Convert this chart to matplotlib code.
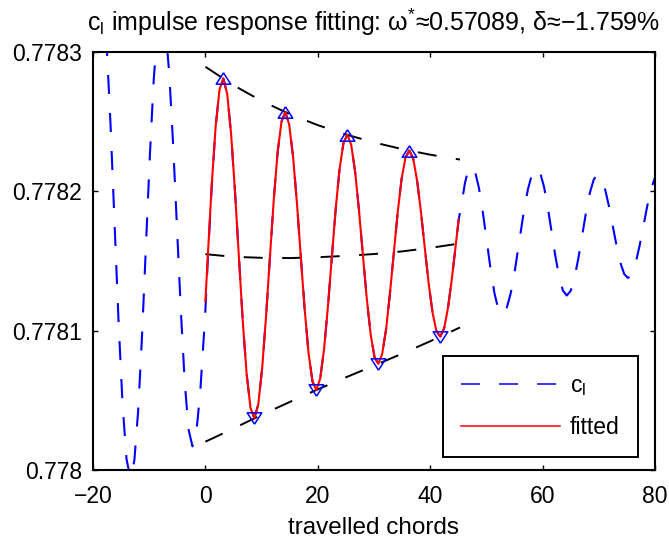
import matplotlib
matplotlib.use("Agg")
import matplotlib.pyplot as plt

plt.rcParams['font.family'] = ['Liberation Sans', 'DejaVu Sans']
plt.rcParams['mathtext.fontset'] = 'custom'
plt.rcParams['mathtext.rm'] = 'Liberation Sans'
plt.rcParams['mathtext.it'] = 'Liberation Sans:italic'
plt.rcParams['lines.scale_dashes'] = False

# measured lift coefficient c_l (blue dashed)
cl_x = [-20.0, -19.71, -19.0, -18.29, -17.58, -16.87, -16.165, -15.455, -14.745, -14.04,
        -13.33, -12.64, -11.95, -11.26, -10.565, -9.875, -9.185, -8.49, -7.8, -7.11,
        -6.425, -5.74, -5.05, -4.36, -3.675, -2.99, -2.3, -1.61, -0.925, -0.24,
        0.0, 0.442, 1.132, 1.821, 2.511, 3.2, 3.889, 4.579, 5.268, 5.958,
        6.647, 7.336, 8.026, 8.715, 9.405, 10.094, 10.783, 11.473, 12.162, 12.852,
        13.541, 14.23, 14.92, 15.609, 16.299, 16.988, 17.677, 18.367, 19.056, 19.746,
        20.435, 21.124, 21.814, 22.503, 23.193, 23.882, 24.571, 25.261, 25.95, 26.64,
        27.329, 28.018, 28.708, 29.397, 30.087, 30.776, 31.465, 32.155, 32.844, 33.534,
        34.223, 34.912, 35.602, 36.291, 36.981, 37.67, 38.359, 39.049, 39.738, 40.428,
        41.117, 41.806, 42.496, 43.185, 43.875, 44.564, 45.07, 45.6, 46.2, 46.75,
        47.3, 47.99, 48.675, 49.36, 50.05, 50.74, 51.425, 52.11, 52.8, 53.56,
        54.33, 55.09, 55.85, 56.61, 57.38, 58.14, 58.9, 59.575, 60.25, 60.925,
        61.6, 62.275, 62.95, 63.625, 64.3, 64.99, 65.675, 66.36, 67.05, 67.74,
        68.425, 69.11, 69.8, 70.475, 71.15, 71.825, 72.5, 73.175, 73.85, 74.525,
        75.2, 75.89, 76.575, 77.26, 77.95, 78.64, 79.325, 80.01, 80.7]
cl_y = [0.7783328, 0.7783461, 0.7783600, 0.7783461, 0.7783064, 0.7782471, 0.7781770, 0.7781069, 0.7780476, 0.7780079,
        0.7779940, 0.7780068, 0.7780432, 0.7780977, 0.7781620, 0.7782263, 0.7782808, 0.7783172, 0.7783300, 0.7783181,
        0.7782841, 0.7782334, 0.7781735, 0.7781136, 0.7780629, 0.7780289, 0.7780170, 0.7780270, 0.7780557, 0.7780984,
        0.7781150, 0.7781520, 0.7782040, 0.7782464, 0.7782730, 0.7782810, 0.7782696, 0.7782409, 0.7781999, 0.7781529,
        0.7781069, 0.7780690, 0.7780446, 0.7780371, 0.7780471, 0.7780727, 0.7781097, 0.7781522, 0.7781938, 0.7782281,
        0.7782501, 0.7782569, 0.7782477, 0.7782245, 0.7781910, 0.7781523, 0.7781146, 0.7780835, 0.7780635, 0.7780574,
        0.7780658, 0.7780871, 0.7781178, 0.7781532, 0.7781878, 0.7782163, 0.7782348, 0.7782406, 0.7782333, 0.7782141,
        0.7781864, 0.7781545, 0.7781233, 0.7780976, 0.7780811, 0.7780762, 0.7780834, 0.7781012, 0.7781269, 0.7781563,
        0.7781851, 0.7782089, 0.7782243, 0.7782293, 0.7782234, 0.7782077, 0.7781850, 0.7781589, 0.7781335, 0.7781127,
        0.7780995, 0.7780958, 0.7781019, 0.7781168, 0.7781379, 0.7781621, 0.7781797, 0.7781915, 0.7782063, 0.7782150,
        0.7782180, 0.7782140, 0.7782024, 0.7781851, 0.7781648, 0.7781444, 0.7781271, 0.7781155, 0.7781115, 0.7781155,
        0.7781269, 0.7781440, 0.7781641, 0.7781842, 0.7782013, 0.7782127, 0.7782167, 0.7782132, 0.7782033, 0.7781885,
        0.7781710, 0.7781534, 0.7781386, 0.7781287, 0.7781252, 0.7781285, 0.7781379, 0.7781519, 0.7781686, 0.7781852,
        0.7781992, 0.7782086, 0.7782119, 0.7782091, 0.7782010, 0.7781890, 0.7781749, 0.7781607, 0.7781487, 0.7781406,
        0.7781378, 0.7781407, 0.7781488, 0.7781610, 0.7781754, 0.7781898, 0.7782020, 0.7782101, 0.7782130]

# fitted damped response (red)
fit_x = [0.0, 0.442, 1.132, 1.821, 2.511, 3.2, 3.889, 4.579, 5.268, 5.958,
         6.647, 7.336, 8.026, 8.715, 9.405, 10.094, 10.783, 11.473, 12.162, 12.852,
         13.541, 14.23, 14.92, 15.609, 16.299, 16.988, 17.677, 18.367, 19.056, 19.746,
         20.435, 21.124, 21.814, 22.503, 23.193, 23.882, 24.571, 25.261, 25.95, 26.64,
         27.329, 28.018, 28.708, 29.397, 30.087, 30.776, 31.465, 32.155, 32.844, 33.534,
         34.223, 34.912, 35.602, 36.291, 36.981, 37.67, 38.359, 39.049, 39.738, 40.428,
         41.117, 41.806, 42.496, 43.185, 43.875, 44.564, 45.07]
fit_y = [0.7781213, 0.7781547, 0.7782050, 0.7782464, 0.7782730, 0.7782810, 0.7782696, 0.7782409, 0.7781999, 0.7781529,
         0.7781069, 0.7780690, 0.7780446, 0.7780371, 0.7780471, 0.7780727, 0.7781097, 0.7781522, 0.7781938, 0.7782281,
         0.7782501, 0.7782569, 0.7782477, 0.7782245, 0.7781910, 0.7781523, 0.7781146, 0.7780835, 0.7780635, 0.7780574,
         0.7780658, 0.7780871, 0.7781178, 0.7781532, 0.7781878, 0.7782163, 0.7782348, 0.7782406, 0.7782333, 0.7782141,
         0.7781864, 0.7781545, 0.7781233, 0.7780976, 0.7780811, 0.7780762, 0.7780834, 0.7781012, 0.7781269, 0.7781563,
         0.7781851, 0.7782089, 0.7782243, 0.7782293, 0.7782234, 0.7782077, 0.7781850, 0.7781589, 0.7781335, 0.7781127,
         0.7780995, 0.7780958, 0.7781019, 0.7781168, 0.7781379, 0.7781621, 0.7781797]

# envelopes and mean line (black dashed)
env_x = [0, 5, 10, 15, 20, 25, 30, 35, 40, 45.3]
env_upper = [0.7782894, 0.7782761, 0.7782649, 0.7782554, 0.7782475, 0.7782408, 0.7782351, 0.7782303, 0.7782263, 0.7782228]
env_lower = [0.7780203, 0.7780298, 0.7780396, 0.7780488, 0.7780579, 0.7780665, 0.7780749, 0.7780835, 0.7780924, 0.7781023]
env_mean = [0.7781549, 0.7781530, 0.7781523, 0.7781521, 0.7781527, 0.7781537, 0.7781550, 0.7781569, 0.7781594, 0.7781626]

# detected extrema
peak_x = [3.2, 14.23, 25.26, 36.29]
peak_y = [0.7782810, 0.7782569, 0.7782406, 0.7782293]
trough_x = [8.715, 19.746, 30.776, 41.806]
trough_y = [0.7780371, 0.7780574, 0.7780762, 0.7780958]

xticks = [-20, 0, 20, 40, 60, 80]
yticks = [0.7780, 0.7781, 0.7782, 0.7783]
ytick_labels = ['0.778', '0.7781', '0.7782', '0.7783']

up_tri = [(0, 0.78), (-1, -0.78), (1, -0.78), (0, 0.78)]
down_tri = [(0, -0.78), (-1, 0.78), (1, 0.78), (0, -0.78)]

fig = plt.figure(figsize=(6.69, 5.39), dpi=100)
ax = fig.add_axes([93 / 669, 69 / 539, 562 / 669, 418 / 539])

ax.plot(cl_x, cl_y, color='blue', linewidth=1.5, dashes=(13.7, 13.7), label=r'c$_{\rm l}$')
for env in (env_upper, env_mean, env_lower):
    ax.plot(env_x, env, color='black', linewidth=1.4, dashes=(13.7, 14.0))
ax.plot(fit_x, fit_y, color='red', linewidth=1.5, label='fitted')
ax.plot(peak_x, peak_y, linestyle='none', marker=up_tri, markersize=10.5,
        markerfacecolor='none', markeredgecolor='blue', markeredgewidth=1.1)
ax.plot(trough_x, trough_y, linestyle='none', marker=down_tri, markersize=10.5,
        markerfacecolor='none', markeredgecolor='blue', markeredgewidth=1.1)

ax.set_xlim(-20, 80)
ax.set_ylim(0.7780, 0.7783)
ax.set_xticks(xticks)
ax.set_yticks(yticks)
ax.set_yticklabels(ytick_labels)
ax.tick_params(direction='in', top=True, right=True, length=3.6, width=1.0, labelsize=16.5)
ax.tick_params(axis='x', pad=10.5)
ax.tick_params(axis='y', pad=8)
for sp in ax.spines.values():
    sp.set_linewidth(1.5)

ax.set_xlabel('travelled chords', fontsize=17.5)
ax.xaxis.set_label_coords(0.5, -0.112)
ax.xaxis.label.set_va('top')

fig.text(374 / 669, 1 - 31 / 539,
         r'c$_{\rm l}$ impulse response fitting: $\mathrm{\omega}^{*}$≈0.57089, δ≈−1.759%',
         ha='center', va='baseline', fontsize=18)

leg = ax.legend(loc='lower right', bbox_to_anchor=(0.970, 0.030), borderaxespad=0,
                fontsize=16.5, handlelength=4.3, handletextpad=0.45, borderpad=0.8,
                labelspacing=0.8, fancybox=False, framealpha=1, edgecolor='black')
leg.get_frame().set_linewidth(1.4)
for line in leg.get_lines():
    line.set_linewidth(1.1)

fig.savefig('out.png', dpi=100)
